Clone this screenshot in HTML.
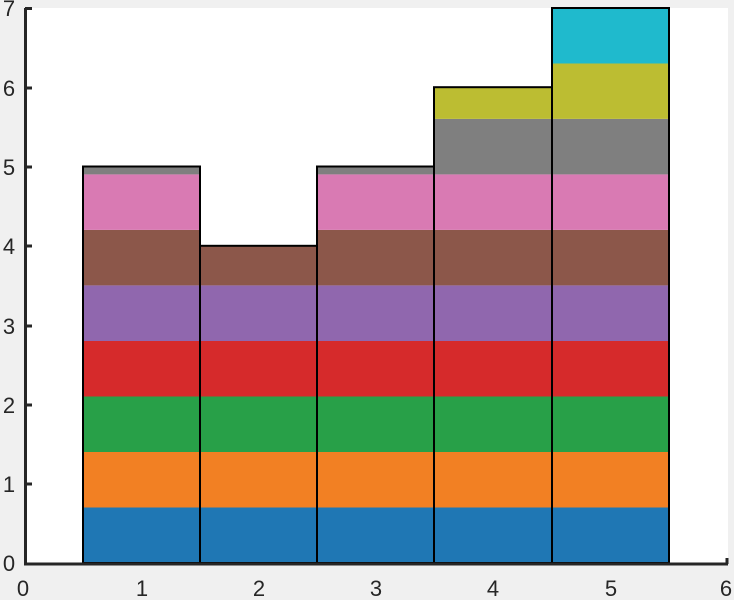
<!DOCTYPE html>
<html><head><style>body{margin:0;background:#f0f0f0}svg{display:block}</style></head><body>
<svg width="734" height="600" xmlns="http://www.w3.org/2000/svg" font-family="Liberation Sans, sans-serif">
<rect width="734" height="600" fill="#f0f0f0"/>
<rect x="25" y="8" width="703" height="555" fill="#fff"/>
<g id="bars">
<!-- scale: x=24.4+117.2*v, y=563-79.3*v -->
<!-- bar 1 -->
<rect x="83" y="507.5" width="117" height="55.5" fill="#1f77b4"/>
<rect x="83" y="452" width="117" height="55.5" fill="#ff7f0e" style="fill:#f28023"/>
<rect x="83" y="396.5" width="117" height="55.5" fill="#28a048"/>
<rect x="83" y="341" width="117" height="55.5" fill="#d62a2b"/>
<rect x="83" y="285.4" width="117" height="55.6" fill="#9067ae"/>
<rect x="83" y="229.9" width="117" height="55.5" fill="#8c574a"/>
<rect x="83" y="174.4" width="117" height="55.5" fill="#d97ab3"/>
<rect x="83" y="166.5" width="117" height="7.9" fill="#7f7f7f"/>
<!-- bar 2 -->
<rect x="200" y="507.5" width="117" height="55.5" fill="#1f77b4"/>
<rect x="200" y="452" width="117" height="55.5" fill="#f28023"/>
<rect x="200" y="396.5" width="117" height="55.5" fill="#28a048"/>
<rect x="200" y="341" width="117" height="55.5" fill="#d62a2b"/>
<rect x="200" y="285.4" width="117" height="55.6" fill="#9067ae"/>
<rect x="200" y="245.8" width="117" height="39.6" fill="#8c574a"/>
<!-- bar 3 -->
<rect x="317" y="507.5" width="117" height="55.5" fill="#1f77b4"/>
<rect x="317" y="452" width="117" height="55.5" fill="#f28023"/>
<rect x="317" y="396.5" width="117" height="55.5" fill="#28a048"/>
<rect x="317" y="341" width="117" height="55.5" fill="#d62a2b"/>
<rect x="317" y="285.4" width="117" height="55.6" fill="#9067ae"/>
<rect x="317" y="229.9" width="117" height="55.5" fill="#8c574a"/>
<rect x="317" y="174.4" width="117" height="55.5" fill="#d97ab3"/>
<rect x="317" y="166.5" width="117" height="7.9" fill="#7f7f7f"/>
<!-- bar 4 -->
<rect x="434" y="507.5" width="118" height="55.5" fill="#1f77b4"/>
<rect x="434" y="452" width="118" height="55.5" fill="#f28023"/>
<rect x="434" y="396.5" width="118" height="55.5" fill="#28a048"/>
<rect x="434" y="341" width="118" height="55.5" fill="#d62a2b"/>
<rect x="434" y="285.4" width="118" height="55.6" fill="#9067ae"/>
<rect x="434" y="229.9" width="118" height="55.5" fill="#8c574a"/>
<rect x="434" y="174.4" width="118" height="55.5" fill="#d97ab3"/>
<rect x="434" y="118.9" width="118" height="55.5" fill="#7f7f7f"/>
<rect x="434" y="87.2" width="118" height="31.7" fill="#bcbd32"/>
<!-- bar 5 -->
<rect x="552" y="507.5" width="117" height="55.5" fill="#1f77b4"/>
<rect x="552" y="452" width="117" height="55.5" fill="#f28023"/>
<rect x="552" y="396.5" width="117" height="55.5" fill="#28a048"/>
<rect x="552" y="341" width="117" height="55.5" fill="#d62a2b"/>
<rect x="552" y="285.4" width="117" height="55.6" fill="#9067ae"/>
<rect x="552" y="229.9" width="117" height="55.5" fill="#8c574a"/>
<rect x="552" y="174.4" width="117" height="55.5" fill="#d97ab3"/>
<rect x="552" y="118.9" width="117" height="55.5" fill="#7f7f7f"/>
<rect x="552" y="63.5" width="117" height="55.4" fill="#bcbd32"/>
<rect x="552" y="8" width="117" height="55.5" fill="#1fbacd"/>
</g>
<g fill="none" stroke="#000" stroke-width="2">
<rect x="83" y="166.5" width="117" height="396.5"/>
<rect x="200" y="245.8" width="117" height="317.2"/>
<rect x="317" y="166.5" width="117" height="396.5"/>
<rect x="434" y="87.2" width="118" height="475.8"/>
<rect x="552" y="8" width="117" height="555"/>
</g>
<g stroke="#262626" stroke-width="3" fill="none">
<path d="M25.5 8 V564 H728"/>
<path d="M727 564 v-6"/>
</g>
<g stroke="#262626" stroke-width="3">
<line x1="25" y1="8.5" x2="32" y2="8.5"/>
<line x1="25" y1="88" x2="32" y2="88"/>
<line x1="25" y1="167" x2="32" y2="167"/>
<line x1="25" y1="246" x2="32" y2="246"/>
<line x1="25" y1="326" x2="32" y2="326"/>
<line x1="25" y1="405" x2="32" y2="405"/>
<line x1="25" y1="484" x2="32" y2="484"/>
</g>
<g font-size="22" fill="#262626" text-anchor="middle">
<text x="9" y="16">7</text>
<text x="9" y="96">6</text>
<text x="9" y="175">5</text>
<text x="9" y="254">4</text>
<text x="9" y="334">3</text>
<text x="9" y="413">2</text>
<text x="9" y="492">1</text>
<text x="9" y="571">0</text>
<text x="23" y="596">0</text>
<text x="142" y="596">1</text>
<text x="259" y="596">2</text>
<text x="376" y="596">3</text>
<text x="493" y="596">4</text>
<text x="611" y="596">5</text>
<text x="726" y="596">6</text>
</g>
</svg>
</body></html>
